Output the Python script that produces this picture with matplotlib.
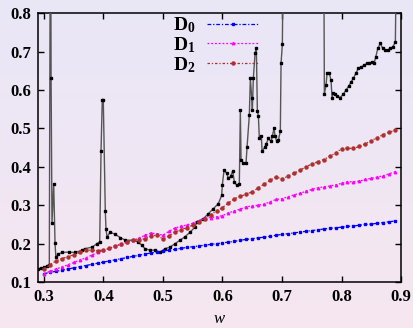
import numpy as np
import matplotlib
matplotlib.use('Agg')
import matplotlib.pyplot as plt

plt.rcParams['font.family'] = ['Liberation Serif', 'DejaVu Serif']
plt.rcParams['mathtext.fontset'] = 'custom'
plt.rcParams['mathtext.rm'] = 'Liberation Serif'
plt.rcParams['mathtext.bf'] = 'Liberation Serif:bold'
plt.rcParams['mathtext.it'] = 'Liberation Serif:italic'

# D series sampled on w = 0.30 ... 0.89
w_d = [0.30, 0.31, 0.32, 0.33, 0.34, 0.35, 0.36, 0.37, 0.38, 0.39,
       0.40, 0.41, 0.42, 0.43, 0.44, 0.45, 0.46, 0.47, 0.48, 0.49,
       0.50, 0.51, 0.52, 0.53, 0.54, 0.55, 0.56, 0.57, 0.58, 0.59,
       0.60, 0.61, 0.62, 0.63, 0.64, 0.65, 0.66, 0.67, 0.68, 0.69,
       0.70, 0.71, 0.72, 0.73, 0.74, 0.75, 0.76, 0.77, 0.78, 0.79,
       0.80, 0.81, 0.82, 0.83, 0.84, 0.85, 0.86, 0.87, 0.88, 0.89]

d0 = [0.122, 0.125, 0.128, 0.131, 0.134, 0.137, 0.140, 0.143, 0.146, 0.149,
      0.152, 0.155, 0.158, 0.161, 0.164, 0.167, 0.170, 0.173, 0.176, 0.178,
      0.181, 0.183, 0.185, 0.188, 0.190, 0.192, 0.194, 0.196, 0.198, 0.200,
      0.202, 0.204, 0.206, 0.209, 0.211, 0.213, 0.215, 0.217, 0.219, 0.222,
      0.224, 0.226, 0.228, 0.230, 0.232, 0.234, 0.236, 0.238, 0.240, 0.241,
      0.243, 0.245, 0.246, 0.248, 0.250, 0.251, 0.253, 0.255, 0.257, 0.259]

d1 = [0.122, 0.128, 0.134, 0.139, 0.145, 0.151, 0.157, 0.163, 0.170, 0.177,
      0.183, 0.188, 0.193, 0.198, 0.204, 0.209, 0.215, 0.222, 0.228, 0.225,
      0.222, 0.232, 0.241, 0.245, 0.249, 0.253, 0.260, 0.266, 0.268, 0.270,
      0.273, 0.280, 0.285, 0.290, 0.296, 0.298, 0.300, 0.303, 0.309, 0.315,
      0.317, 0.322, 0.327, 0.331, 0.336, 0.341, 0.345, 0.348, 0.350, 0.353,
      0.357, 0.361, 0.361, 0.363, 0.367, 0.370, 0.373, 0.377, 0.382, 0.387]

d2 = [0.133, 0.145, 0.155, 0.161, 0.166, 0.171, 0.177, 0.183, 0.183, 0.182,
      0.183, 0.188, 0.195, 0.199, 0.205, 0.209, 0.210, 0.213, 0.220, 0.222,
      0.212, 0.220, 0.230, 0.236, 0.242, 0.248, 0.256, 0.265, 0.275, 0.285,
      0.294, 0.306, 0.317, 0.323, 0.329, 0.335, 0.345, 0.355, 0.365, 0.374,
      0.368, 0.376, 0.383, 0.391, 0.400, 0.407, 0.413, 0.419, 0.427, 0.436,
      0.447, 0.448, 0.448, 0.453, 0.460, 0.468, 0.476, 0.484, 0.490, 0.495]

# unlabelled black curve (values above 0.8 run off the top of the frame)
w_k = [0.290, 0.295, 0.300, 0.305, 0.309, 0.3105, 0.3115, 0.312, 0.3135, 0.3164,
       0.3186, 0.320, 0.3236, 0.330, 0.3416, 0.3527, 0.364, 0.3695, 0.3808, 0.3892,
       0.3937, 0.3959, 0.398, 0.3997, 0.4031, 0.4043, 0.406, 0.4115, 0.420, 0.4283,
       0.4367, 0.4502, 0.4586, 0.4643, 0.4698, 0.4782, 0.4866, 0.495, 0.5034, 0.5118,
       0.5203, 0.5287, 0.537, 0.5455, 0.5539, 0.5567, 0.5678, 0.5762, 0.5846, 0.593,
       0.5987, 0.5997, 0.6026, 0.6071, 0.6098, 0.6135, 0.6172, 0.6199, 0.6239, 0.6283,
       0.630, 0.6312, 0.635, 0.6396, 0.6413, 0.6451, 0.6468, 0.6492, 0.6502, 0.6518,
       0.6547, 0.6569, 0.6586, 0.6603, 0.6619, 0.6653, 0.6665, 0.6715, 0.6737, 0.6771,
       0.6816, 0.6838, 0.6866, 0.6883, 0.6912, 0.6939, 0.6972, 0.6984, 0.7006, 0.702,
       0.730, 0.760, 0.7703, 0.7712, 0.774, 0.7757, 0.7796, 0.7824, 0.7841, 0.7863,
       0.7897, 0.793, 0.7976, 0.8031, 0.8076, 0.8122, 0.8161, 0.8199, 0.824, 0.8283,
       0.8329, 0.8379, 0.8424, 0.8468, 0.8508, 0.8547, 0.8576, 0.8609, 0.8653, 0.8693,
       0.8732, 0.8777, 0.8816, 0.8861, 0.8905, 0.8922]
k = [0.135, 0.136, 0.138, 0.142, 0.145, 0.95, 0.95, 0.630, 0.254, 0.356,
     0.202, 0.165, 0.172, 0.177, 0.178, 0.177, 0.183, 0.187, 0.191, 0.200,
     0.205, 0.440, 0.575, 0.575, 0.284, 0.2375, 0.218, 0.230, 0.224, 0.216,
     0.209, 0.209, 0.204, 0.196, 0.187, 0.183, 0.183, 0.178, 0.187, 0.191,
     0.200, 0.209, 0.218, 0.230, 0.243, 0.257, 0.265, 0.278, 0.291, 0.304,
     0.326, 0.352, 0.391, 0.383, 0.370, 0.375, 0.389, 0.361, 0.352, 0.356,
     0.547, 0.419, 0.410, 0.410, 0.452, 0.534, 0.630, 0.578, 0.547, 0.630,
     0.695, 0.710, 0.545, 0.532, 0.476, 0.480, 0.441, 0.452, 0.460, 0.474,
     0.466, 0.480, 0.500, 0.480, 0.466, 0.470, 0.492, 0.669, 0.719, 0.95,
     1.10, 1.10, 0.95, 0.589, 0.613, 0.643, 0.643, 0.625, 0.580, 0.592,
     0.589, 0.584, 0.580, 0.589, 0.600, 0.610, 0.621, 0.630, 0.643, 0.656,
     0.660, 0.664, 0.669, 0.670, 0.673, 0.670, 0.686, 0.708, 0.721, 0.708,
     0.704, 0.704, 0.708, 0.712, 0.725, 0.95]

fig = plt.figure(figsize=(4.13, 3.28), dpi=100)

# soft vertical gradient behind everything
bg = fig.add_axes([0, 0, 1, 1], zorder=-10)
top_c = np.array([233, 231, 247]) / 255.0
bot_c = np.array([246, 230, 240]) / 255.0
t = np.linspace(0, 1, 256)[:, None, None]
grad = top_c * (1 - t) + bot_c * t
bg.imshow(np.repeat(grad, 2, axis=1), aspect='auto', extent=[0, 1, 0, 1])
bg.axis('off')

ax = fig.add_axes([0.092, 0.140, 0.879, 0.820])
ax.set_facecolor('none')

ax.plot(w_k, k, color='#555555', lw=1.0, marker='s', ms=1.7,
        mfc='black', mec='black', zorder=3)
ax.plot(w_d, d0, color='#0000ff', lw=0.9, ls=(0, (3, 1.5, 1, 1.5)),
        marker='s', ms=1.6, label=r'$\mathbf{D_0}$', zorder=4)
ax.plot(w_d, d1, color='#ff00ff', lw=0.9, ls=(0, (1.5, 1.5)),
        marker='^', ms=1.8, label=r'$\mathbf{D_1}$', zorder=4)
ax.plot(w_d, d2, color='#b03030', lw=0.9, ls=(0, (2, 1.5, 1, 1.5)),
        marker='o', ms=2.2, label=r'$\mathbf{D_2}$', zorder=4)

ax.set_xlim(0.29, 0.9)
ax.set_ylim(0.1, 0.8)
ax.set_xticks([0.3, 0.4, 0.5, 0.6, 0.7, 0.8, 0.9])
ax.set_yticks([0.1, 0.2, 0.3, 0.4, 0.5, 0.6, 0.7, 0.8])
ax.set_xticklabels(['0.3', '0.4', '0.5', '0.6', '0.7', '0.8', '0.9'])
ax.set_yticklabels(['0.1', '0.2', '0.3', '0.4', '0.5', '0.6', '0.7', '0.8'])
ax.tick_params(direction='in', length=4, width=1, top=True, right=True,
               labelsize=12, pad=5)
for lab in ax.get_xticklabels() + ax.get_yticklabels():
    lab.set_fontweight('bold')
for sp in ax.spines.values():
    sp.set_linewidth(1.1)

ax.set_xlabel('w', fontsize=12, style='italic', labelpad=4)

leg = ax.legend(loc='upper left', bbox_to_anchor=(0.35, 1.02), frameon=False,
                markerfirst=False, numpoints=1, handlelength=2.7,
                handletextpad=0.6, labelspacing=0.0, fontsize=14,
                borderaxespad=0.0)

fig.savefig('out.png', dpi=100)
